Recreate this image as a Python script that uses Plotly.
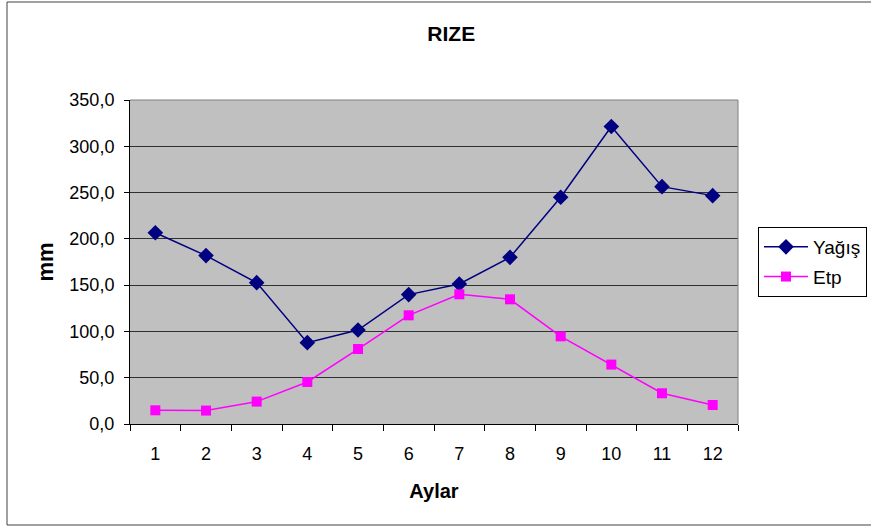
import plotly.graph_objects as go

months = ["1", "2", "3", "4", "5", "6", "7", "8", "9", "10", "11", "12"]
yagis = [206.6, 181.9, 152.7, 87.9, 101.5, 139.8, 151.2, 180.0, 244.9, 321.3, 256.4, 246.7]
etp = [14.8, 14.5, 24.2, 45.4, 81.0, 117.4, 140.1, 134.7, 94.7, 64.2, 33.2, 20.5]
y_ticks = [0, 50, 100, 150, 200, 250, 300, 350]

FONT = "Liberation Sans, Arial, sans-serif"

fig = go.Figure()
fig.add_trace(go.Scatter(
    x=months, y=yagis, name="Yağış", mode="lines+markers", legendgroup="a",
    line=dict(color="#000080", width=1.5),
    marker=dict(symbol="diamond", size=12, color="#000080"),
))
fig.add_trace(go.Scatter(
    x=months, y=etp, name="Etp", mode="lines+markers", legendgroup="b",
    line=dict(color="#FF00FF", width=1.5),
    marker=dict(symbol="square", size=10, color="#FF00FF"),
))

L, R, T, B = 130, 738, 100, 424
W, H = 871, 528
pw, ph = R - L, B - T

def px(x):
    return (x - L) / pw

def py(y):
    return (B - y) / ph

fig.update_layout(
    width=W, height=H,
    margin=dict(l=L, r=W - R, t=T, b=H - B, pad=0, autoexpand=False),
    paper_bgcolor="white",
    plot_bgcolor="#C0C0C0",
    separators=", ",
    font=dict(family=FONT, size=18, color="black"),
    title=dict(text="<b>RIZE</b>", x=px(445), xanchor="center", y=1 - 34 / H, yanchor="middle",
               font=dict(family=FONT, size=21, color="black")),
    showlegend=True,
    legend=dict(x=px(758), xanchor="left", y=py(227), yanchor="top",
                bordercolor="black", borderwidth=1, bgcolor="white",
                font=dict(family=FONT, size=19, color="black"),
                itemwidth=44, tracegroupgap=2, traceorder="grouped"),
    xaxis=dict(
        type="category", categoryorder="array", categoryarray=months,
        tickson="boundaries", ticks="outside", ticklen=6, tickcolor="black",
        showline=True, linecolor="black", linewidth=1,
        showgrid=False, zeroline=False,
        tickfont=dict(family=FONT, size=18, color="black"),
        ticklabelstandoff=13,
        title=dict(text="<b>Aylar</b>", font=dict(family=FONT, size=20, color="black"), standoff=21),
        range=[-0.5, 11.5],
    ),
    yaxis=dict(
        range=[0, 350], tickvals=y_ticks, tickformat=".1f",
        ticks="outside", ticklen=5, tickcolor="black",
        showline=True, linecolor="black", linewidth=1,
        showgrid=True, gridcolor="#303030", gridwidth=1, zeroline=False,
        tickfont=dict(family=FONT, size=18, color="black"),
        ticklabelstandoff=6,
        title=dict(text="<b>mm</b>", font=dict(family=FONT, size=22, color="black"), standoff=9),
    ),
    shapes=[
        dict(type="line", xref="paper", yref="paper", x0=0, x1=1, y0=1, y1=1,
             line=dict(color="#808080", width=1)),
        dict(type="line", xref="paper", yref="paper", x0=1, x1=1, y0=0, y1=1,
             line=dict(color="#808080", width=1)),
        dict(type="rect", xref="paper", yref="paper",
             x0=px(7), x1=px(880), y0=py(525), y1=py(2),
             line=dict(color="#404040", width=1), layer="below"),
    ],
)

fig.write_html("out.html", config={"displayModeBar": False},
               post_script="document.body.style.margin='0';document.body.style.overflow='hidden';")
